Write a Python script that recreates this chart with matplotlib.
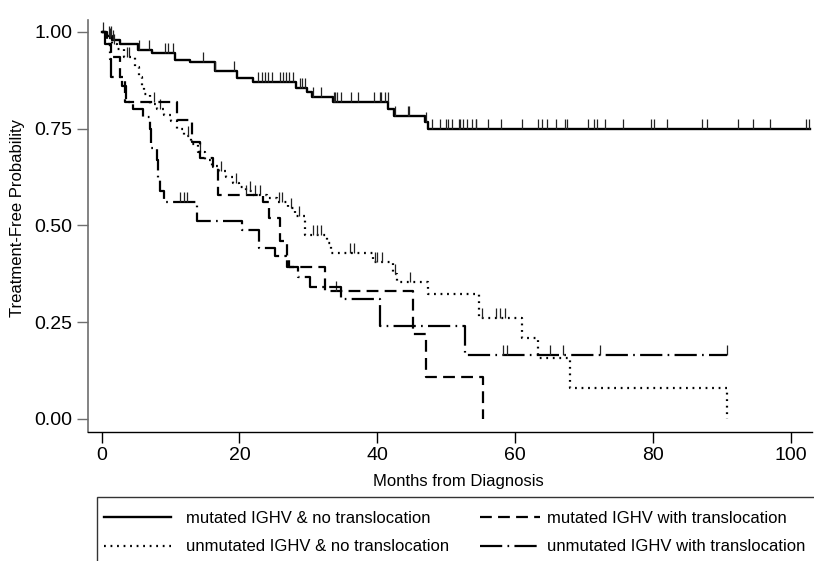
import numpy as np
import matplotlib
matplotlib.use('Agg')
import matplotlib.pyplot as plt
from matplotlib.patches import Rectangle

plt.rcParams['font.family'] = ['Liberation Sans', 'DejaVu Sans']
plt.rcParams['lines.scale_dashes'] = False

# ---------------- data ----------------
x_ticks = [0, 20, 40, 60, 80, 100]
y_ticks = [0.00, 0.25, 0.50, 0.75, 1.00]
y_ticklabels = ['0.00', '0.25', '0.50', '0.75', '1.00']
x_label = 'Months from Diagnosis'
y_label = 'Treatment-Free Probability'

group_labels = ['mutated IGHV & no translocation',
                'unmutated IGHV & no translocation',
                'mutated IGHV with translocation',
                'unmutated IGHV with translocation']

# mutated IGHV & no translocation (solid)
mn_t = [0, 0.6, 1.5, 2.6, 5.3, 7.3, 10.6, 12.8, 16.4, 19.6, 22.0, 28.2, 29.8,
        30.5, 33.6, 41.6, 42.4, 46.9, 47.3]
mn_s = [1.0, 0.99, 0.98, 0.97, 0.953, 0.946, 0.928, 0.922, 0.90, 0.881, 0.871,
        0.856, 0.846, 0.831, 0.819, 0.80, 0.784, 0.768, 0.749]
mn_end = 102.8
mn_cens = [0.2, 1.0, 1.3, 1.7, 5.4, 6.9, 9.2, 9.6, 10.4, 14.7, 16.4, 19.2, 22.7,
           23.3, 23.7, 24.1, 24.7, 25.9, 26.3, 26.7, 27.2, 27.8, 28.8, 29.1,
           29.5, 30.6, 31.8, 33.7, 33.9, 34.1, 34.8, 36.2, 37.2, 39.5, 40.4,
           40.6, 41.1, 41.5, 42.5, 44.4, 44.6, 47.0, 48.0, 49.1, 50.0, 50.3,
           50.9, 51.8, 52.0, 52.5, 53.0, 53.8, 54.3, 54.4, 56.0, 58.0, 61.0,
           63.4, 63.9, 64.7, 65.9, 67.2, 67.5, 70.6, 71.4, 71.9, 73.1, 75.6,
           79.7, 80.2, 82.0, 87.1, 87.9, 92.3, 94.6, 97.0, 102.2, 102.7]

# unmutated IGHV & no translocation (dotted)
un_t = [0, 0.8, 1.5, 2.2, 3.2, 4.8, 5.4, 5.8, 6.2, 7.0, 8.0, 9.0, 10.0, 11.0,
        12.0, 13.0, 14.0, 15.0, 16.0, 17.0, 18.0, 19.0, 20.0, 21.0, 22.0,
        24.0, 25.5, 27.0, 28.0, 29.5, 32.7, 33.3, 39.4, 42.3, 42.8, 47.3,
        54.7, 61.0, 63.3, 68.0, 90.8]
un_s = [1.0, 0.985, 0.97, 0.955, 0.935, 0.91, 0.885, 0.86, 0.84, 0.815, 0.80,
        0.785, 0.77, 0.75, 0.73, 0.71, 0.69, 0.67, 0.655, 0.64, 0.625, 0.61,
        0.60, 0.59, 0.58, 0.57, 0.56, 0.545, 0.525, 0.475, 0.455, 0.43, 0.405,
        0.375, 0.355, 0.323, 0.26, 0.209, 0.158, 0.08, 0.0]
un_end = 90.8
un_cens = [1.2, 1.8, 3.6, 3.9, 8.5, 12.5, 14.2, 17.3, 19.5, 21.5, 22.3, 23.0,
           25.8, 26.2, 27.5, 28.6, 30.7, 31.3, 31.9, 36.0, 36.6, 39.7, 40.0,
           40.7, 42.5, 44.7, 55.2, 57.3, 57.8, 58.5]

# mutated IGHV with translocation (dashed)
mt_t = [0, 0.8, 1.3, 2.6, 3.4, 11.0, 13.1, 14.3, 16.2, 16.9, 23.4, 24.3,
        25.9, 26.9, 27.2, 32.4, 45.2, 47.1, 55.3]
mt_s = [1.0, 0.97, 0.935, 0.885, 0.82, 0.773, 0.716, 0.675, 0.65, 0.58, 0.56,
        0.52, 0.46, 0.42, 0.393, 0.33, 0.22, 0.109, 0.0]
mt_end = 55.3
mt_cens = [7.6, 21.0, 34.0]

# unmutated IGHV with translocation (dash-dot)
ut_t = [0, 0.5, 1.2, 1.4, 3.0, 3.5, 4.5, 6.0, 7.0, 7.2, 8.0, 8.1, 8.5, 9.0,
        13.8, 20.4, 22.8, 25.2, 26.9, 28.5, 30.2, 34.8, 40.4, 52.7]
ut_s = [1.0, 0.97, 0.93, 0.885, 0.86, 0.82, 0.80, 0.78, 0.75, 0.70, 0.67, 0.62,
        0.59, 0.56, 0.512, 0.488, 0.441, 0.42, 0.393, 0.367, 0.341, 0.31,
        0.24, 0.165]
ut_end = 90.8
ut_cens = [11.4, 11.9, 12.4, 58.2, 58.8, 65.1, 67.0, 72.4, 90.7]

# ---------------- drawing ----------------
W, H = 814, 561
fig = plt.figure(figsize=(W / 100, H / 100), dpi=100)
ax = fig.add_axes([88 / W, 1 - 432 / H, 724 / W, 412 / H])


def km(t, s, t_end, cens, ls, lw, label):
    tt = list(t) + [t_end]
    ss = list(s) + [s[-1]]
    line, = ax.step(tt, ss, where='post', color='black', lw=lw, linestyle=ls,
                    label=label)
    t_arr = np.asarray(t)
    s_arr = np.asarray(s)
    idx = np.searchsorted(t_arr, cens, side='right') - 1
    ax.plot(cens, s_arr[idx], linestyle='none', marker=2, markersize=7,
            markeredgewidth=0.9, color='#222222')
    return line


ls_solid = '-'
ls_dot = (0, (1.3, 3.4))
ls_dash = (0, (8.5, 4.5))
ls_dashdot = (0, (16.0, 3.8, 1.2, 3.8))

h1 = km(mn_t, mn_s, mn_end, mn_cens, ls_solid, 1.7, group_labels[0])
h2 = km(un_t, un_s, un_end, un_cens, ls_dot, 1.6, group_labels[1])
h3 = km(mt_t, mt_s, mt_end, mt_cens, ls_dash, 1.6, group_labels[2])
h4 = km(ut_t, ut_s, ut_end, ut_cens, ls_dashdot, 1.6, group_labels[3])

ax.set_xlim(-1.99, 103.1)
ax.set_ylim(-0.0336, 1.031)
ax.set_xticks(x_ticks)
ax.set_yticks(y_ticks)
ax.set_yticklabels(y_ticklabels)
for sp in ['top', 'right']:
    ax.spines[sp].set_visible(False)
ax.spines['left'].set_color('#6e6e6e')
ax.spines['left'].set_linewidth(1.2)
ax.spines['bottom'].set_color('black')
ax.spines['bottom'].set_linewidth(1.0)
ax.tick_params(axis='y', length=8, width=1, color='#6e6e6e', pad=3,
               labelsize=14)
ax.tick_params(axis='x', length=8, width=1, color='black', pad=3,
               labelsize=14)

ax.set_xlabel(x_label, fontsize=12)
ax.xaxis.set_label_coords(0.511, -0.102)
ax.set_ylabel(y_label, fontsize=12)
ax.yaxis.set_label_coords(-0.087, 0.52)

# legend frame
fig.patches.append(Rectangle((97 / W, -0.1), 1.0, 1 - 497 / H + 0.1,
                             transform=fig.transFigure, fill=False,
                             edgecolor='#333333', linewidth=1.0))

common = dict(loc='upper left', frameon=False, fontsize=12, borderpad=0,
              borderaxespad=0, labelspacing=0.8)
fig.legend(handles=[h1, h2], labels=[group_labels[0], group_labels[1]],
           bbox_to_anchor=(104 / W, 1 - 511 / H), handlelength=4.0,
           handletextpad=0.95, **common)
fig.legend(handles=[h3, h4], labels=[group_labels[2], group_labels[3]],
           bbox_to_anchor=(480 / W, 1 - 511 / H), handlelength=3.6,
           handletextpad=0.4, **common)

fig.savefig('out.png', dpi=100)
